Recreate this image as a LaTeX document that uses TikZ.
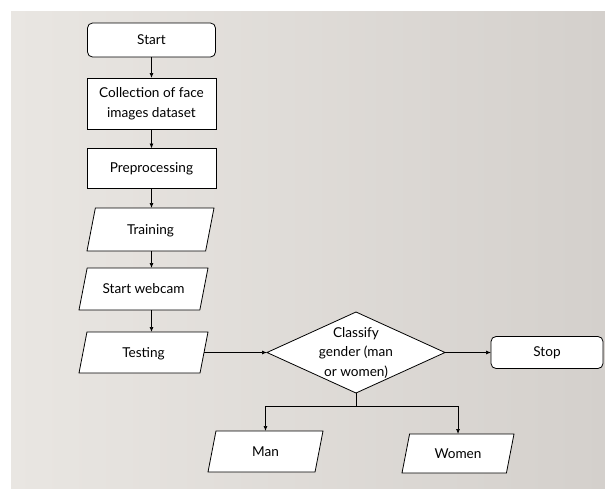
\documentclass[tikz,border=0pt]{standalone}
\usepackage{fontspec}
\setmainfont{Lato}
\usetikzlibrary{shapes.geometric,arrows.meta}
\definecolor{bgL}{HTML}{E9E6E2}
\definecolor{bgR}{HTML}{D4D0CC}
\begin{document}
\begin{tikzpicture}[x=1pt,y=-1pt,
  every node/.style={font=\fontsize{13.6}{19.5}\selectfont},
  proc/.style={draw=black, fill=white, line width=0.8pt, inner sep=0pt, outer sep=0pt, align=center},
  term/.style={proc, rounded corners=5pt},
  io/.style={proc, trapezium, trapezium left angle=79, trapezium right angle=101, trapezium stretches body},
  dec/.style={proc, diamond, inner sep=-16pt},
  arr/.style={-{Latex[length=5pt,width=4pt]}, line width=0.7pt}]
\useasboundingbox (0,0) rectangle (605,488);
\shade[left color=bgL, right color=bgR] (11,11) rectangle (605,488);

\node[term, minimum width=128pt, minimum height=34pt] (start) at (151.5,40) {Start};
\node[proc, minimum width=129pt, minimum height=51pt] (coll) at (151.5,103.5) {Collection of face\\images dataset};
\node[proc, minimum width=129pt, minimum height=40pt] (pre) at (151.5,168.5) {Preprocessing};
\node[io, minimum width=127pt, text height=26pt, text depth=17pt] (train) at (150.5,229.5) {Training};
\node[io, minimum width=129pt, text height=25.5pt, text depth=16.5pt] (web) at (143.5,289) {Start webcam};
\node[io, minimum width=129pt, text height=25pt, text depth=16pt] (test) at (143.5,352.5) {Testing};
\node[dec, minimum width=178pt, minimum height=81pt] (cls) at (356,352.5) {Classify\\gender (man\\or women)};
\node[term, minimum width=112pt, minimum height=32pt] (stop) at (547,352.5) {Stop};
\node[io, minimum width=115pt, text height=25pt, text depth=16pt] (man) at (265.5,451.5) {Man};
\node[io, minimum width=112pt, text height=24pt, text depth=15pt] (women) at (458,453.5) {Women};
\coordinate (j) at (356,406);

\draw[arr] (start) -- (coll);
\draw[arr] (coll) -- (pre);
\draw[arr] (pre) -- (train.north -| pre);
\draw[arr] (train.south -| pre) -- (web.north -| pre);
\draw[arr] (web.south -| pre) -- (test.north -| pre);
\draw[arr] (test) -- (cls);
\draw[arr] (cls) -- (stop);
\draw[line width=0.7pt] (cls.south) -- (j);
\draw[arr] (j) -| (man);
\draw[arr] (j) -| (women);
\end{tikzpicture}
\end{document}
